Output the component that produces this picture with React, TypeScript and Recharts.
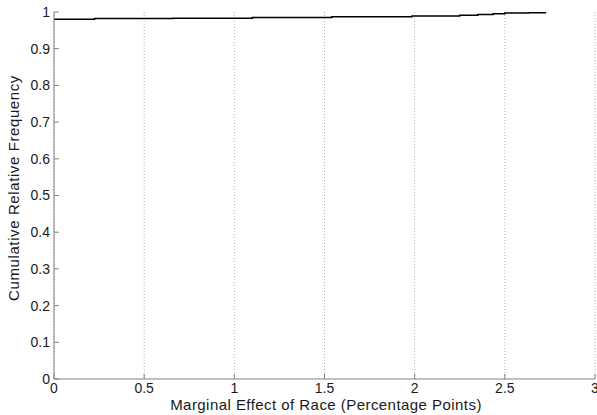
import { LineChart, Line, XAxis, YAxis, CartesianGrid } from "recharts";

const effectX = [0, 0.225, 0.66, 1.1, 1.54, 1.985, 2.25, 2.35, 2.435, 2.5, 2.63, 2.725];
const cumFreq = [0.98, 0.982, 0.983, 0.985, 0.987, 0.989, 0.991, 0.993, 0.995, 0.997, 0.998, 1.0];

const xTicks = [0, 0.5, 1, 1.5, 2, 2.5, 3];
const yTicks = [0, 0.1, 0.2, 0.3, 0.4, 0.5, 0.6, 0.7, 0.8, 0.9, 1];

const data = effectX.map((x, i) => ({ x, y: cumFreq[i] }));

const FONT = "'Liberation Sans', Arial, Helvetica, sans-serif";
const AXIS = "#808080";
const TEXT = "#1a1a1a";

const BottomTick = ({ x, y, payload }: any) => (
  <g>
    <line x1={x} y1={y} x2={x} y2={y - 5} stroke={AXIS} />
    <text x={x} y={y + 14} textAnchor="middle" fontSize={14} fontFamily={FONT} fill={TEXT}>
      {payload.value}
    </text>
  </g>
);

const TopTick = ({ x, y }: any) => <line x1={x} y1={y} x2={x} y2={y + 5} stroke={AXIS} />;

const LeftTick = ({ x, y, payload }: any) => (
  <g>
    <line x1={x} y1={y} x2={x + 5} y2={y} stroke={AXIS} />
    <text x={x - 4} y={y} dy="0.35em" textAnchor="end" fontSize={14} fontFamily={FONT} fill={TEXT}>
      {payload.value}
    </text>
  </g>
);

const RightTick = ({ x, y }: any) => <line x1={x} y1={y} x2={x - 5} y2={y} stroke={AXIS} />;

export default function App() {
  return (
    <div style={{ position: "absolute", left: 0, top: 0, width: 597, height: 415, background: "#fff" }}>
      <LineChart width={597} height={415} data={data} margin={{ top: 12, right: 2, bottom: 0, left: 0 }}>
        <CartesianGrid
          xAxisId="bottom"
          yAxisId="left"
          horizontal={false}
          stroke="#b0b0b0"
          strokeDasharray="1 2"
        />
        <XAxis
          xAxisId="bottom"
          dataKey="x"
          type="number"
          domain={[0, 3]}
          ticks={xTicks}
          height={36}
          tickLine={false}
          tickSize={0}
          tickMargin={0}
          stroke={AXIS}
          tick={<BottomTick />}
          interval={0}
        />
        <XAxis
          xAxisId="top"
          dataKey="x"
          type="number"
          orientation="top"
          domain={[0, 3]}
          ticks={xTicks}
          height={0}
          tickLine={false}
          tickSize={0}
          tickMargin={0}
          stroke={AXIS}
          tick={<TopTick />}
          interval={0}
        />
        <YAxis
          yAxisId="left"
          type="number"
          domain={[0, 1]}
          ticks={yTicks}
          width={54}
          tickLine={false}
          tickSize={0}
          tickMargin={0}
          stroke={AXIS}
          tick={<LeftTick />}
          interval={0}
        />
        <YAxis
          yAxisId="right"
          type="number"
          orientation="right"
          domain={[0, 1]}
          ticks={yTicks}
          width={0}
          tickLine={false}
          tickSize={0}
          tickMargin={0}
          stroke={AXIS}
          tick={<RightTick />}
          interval={0}
        />
        <Line
          xAxisId="bottom"
          yAxisId="left"
          dataKey="y"
          type="stepAfter"
          stroke="#000"
          strokeWidth={1.5}
          dot={false}
          isAnimationActive={false}
        />
      </LineChart>
      <div
        style={{
          position: "absolute",
          left: 13,
          top: 188,
          transform: "translate(-50%, -50%) rotate(-90deg)",
          whiteSpace: "nowrap",
          fontFamily: FONT,
          fontSize: 15,
          letterSpacing: 0.6,
          color: TEXT,
        }}
      >
        Cumulative Relative Frequency
      </div>
      <div
        style={{
          position: "absolute",
          left: 326,
          top: 404,
          transform: "translate(-50%, -50%)",
          whiteSpace: "nowrap",
          fontFamily: FONT,
          fontSize: 15,
          letterSpacing: 0.45,
          color: TEXT,
        }}
      >
        Marginal Effect of Race (Percentage Points)
      </div>
    </div>
  );
}
